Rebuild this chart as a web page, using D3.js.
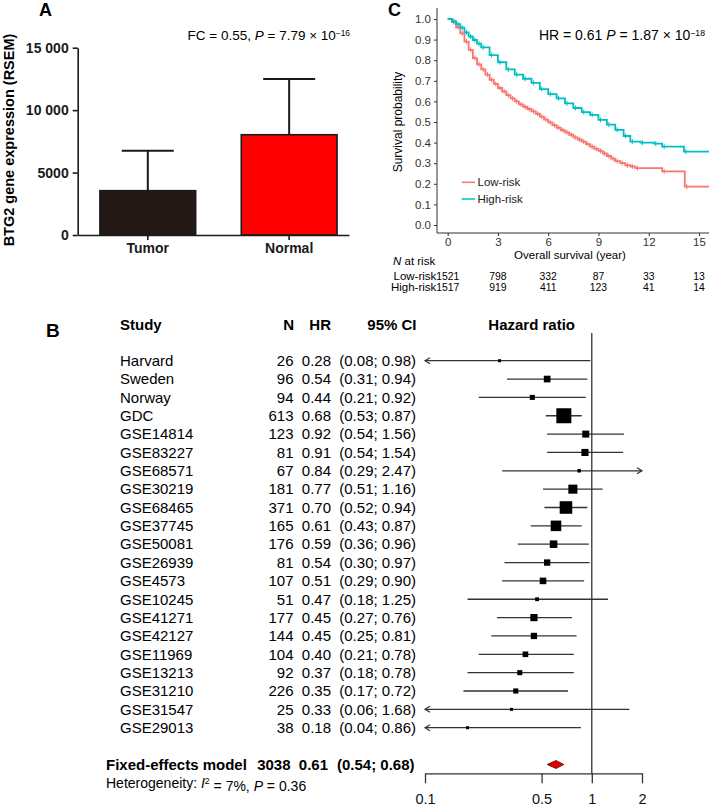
<!DOCTYPE html>
<html>
<head>
<meta charset="utf-8">
<script src="https://cdn.jsdelivr.net/npm/d3@7"></script>
<style>
  html, body { margin: 0; padding: 0; background: #fff; }
  svg { display: block; font-family: "Liberation Sans", Arial, sans-serif; }
</style>
</head>
<body>
<svg id="chart" width="709" height="807"></svg>
<script>
// ---------- Panel A data: BTG2 expression ----------
var groups = ["Tumor", "Normal"];
var meanExpr = [3550, 8030];
var errExpr = [3200, 4470];
var yTicksA = [0, 5000, 10000, 15000];
var yTickLabelsA = ["0", "5000", "10 000", "15 000"];

// ---------- Panel C data: Kaplan-Meier curves ----------
var kmLowTime = [0, 0.25, 0.5, 0.75, 1, 1.25, 1.5, 1.75, 2, 2.25, 2.5, 2.75, 3, 3.25, 3.5, 3.75, 4, 4.25, 4.5, 4.75, 5, 5.25, 5.5, 5.75, 6, 6.25, 6.5, 6.75, 7, 7.25, 7.5, 7.75, 8, 8.25, 8.5, 8.75, 9, 9.25, 9.5, 9.75, 10, 10.3, 10.6, 10.9, 11.2, 12.8, 14.15, 15.6];
var kmLowSurv = [1, 0.985, 0.96, 0.93, 0.89, 0.85, 0.81, 0.78, 0.755, 0.73, 0.705, 0.685, 0.665, 0.648, 0.63, 0.615, 0.6, 0.586, 0.574, 0.563, 0.552, 0.54, 0.526, 0.512, 0.498, 0.485, 0.472, 0.46, 0.45, 0.438, 0.425, 0.415, 0.405, 0.393, 0.38, 0.37, 0.36, 0.347, 0.335, 0.322, 0.31, 0.3, 0.29, 0.284, 0.276, 0.26, 0.186, 0.186];
var kmHighTime = [0, 0.25, 0.5, 0.75, 1, 1.25, 1.5, 1.75, 2, 2.5, 3, 3.5, 4, 4.5, 5, 5.5, 6, 6.5, 7, 7.5, 8, 8.5, 9, 9.5, 10, 10.5, 10.9, 11.5, 12.3, 12.8, 14.1, 15.6];
var kmHighSurv = [1, 0.99, 0.975, 0.958, 0.935, 0.915, 0.898, 0.88, 0.862, 0.825, 0.79, 0.755, 0.73, 0.71, 0.69, 0.66, 0.635, 0.615, 0.59, 0.568, 0.548, 0.535, 0.51, 0.487, 0.462, 0.432, 0.405, 0.4, 0.395, 0.38, 0.356, 0.356];
var survTicks = [0, 0.1, 0.2, 0.3, 0.4, 0.5, 0.6, 0.7, 0.8, 0.9, 1.0];
var timeTicks = [0, 3, 6, 9, 12, 15];
var riskLow = [1521, 798, 332, 87, 33, 13];
var riskHigh = [1517, 919, 411, 123, 41, 14];

// ---------- Panel B data: forest plot ----------
var studies = ["Harvard", "Sweden", "Norway", "GDC", "GSE14814", "GSE83227", "GSE68571", "GSE30219", "GSE68465", "GSE37745", "GSE50081", "GSE26939", "GSE4573", "GSE10245", "GSE41271", "GSE42127", "GSE11969", "GSE13213", "GSE31210", "GSE31547", "GSE29013"];
var studyN = [26, 96, 94, 613, 123, 81, 67, 181, 371, 165, 176, 81, 107, 51, 177, 144, 104, 92, 226, 25, 38];
var studyHR = [0.28, 0.54, 0.44, 0.68, 0.92, 0.91, 0.84, 0.77, 0.70, 0.61, 0.59, 0.54, 0.51, 0.47, 0.45, 0.45, 0.40, 0.37, 0.35, 0.33, 0.18];
var ciLow = [0.08, 0.31, 0.21, 0.53, 0.54, 0.54, 0.29, 0.51, 0.52, 0.43, 0.36, 0.30, 0.29, 0.18, 0.27, 0.25, 0.21, 0.18, 0.17, 0.06, 0.04];
var ciHigh = [0.98, 0.94, 0.92, 0.87, 1.56, 1.54, 2.47, 1.16, 0.94, 0.87, 0.96, 0.97, 0.90, 1.25, 0.76, 0.81, 0.78, 0.78, 0.72, 1.68, 0.86];
var pooledN = 3038, pooledHR = 0.61, pooledLow = 0.54, pooledHigh = 0.68;
var hetI2 = 7, hetP = 0.36;
var hrTicks = [0.1, 0.5, 1, 2];

var lowColor = '#F8766D', highColor = '#00BFC4';
var svg = d3.select('#chart');

// Helper: text with italic / superscript pieces such as "× 10^-16"
function supText(sel, parts) {
    parts.forEach(function (p) {
        var t = sel.append('tspan').text(p.t);
        if (p.i) t.style('font-style', 'italic');
        if (p.sup) t.attr('dy', '-0.45em').style('font-size', '0.62em');
        if (p.down) t.attr('dy', '0.45em');
    });
}

// =============== Panel A ===============
var gA = svg.append('g');
var xA = d3.scaleBand().domain(groups).range([77.7, 349])
    .paddingInner(0.3227).paddingOuter(0.121).align(0.65);
var yA = d3.scaleLinear().domain([0, 15000]).range([235, 47.7]);

gA.selectAll('rect.bar').data(groups).enter().append('rect')
    .attr('class', 'bar')
    .attr('x', function (d) { return xA(d); })
    .attr('width', xA.bandwidth())
    .attr('y', function (d, i) { return yA(meanExpr[i]); })
    .attr('height', function (d, i) { return yA(0) - yA(meanExpr[i]); })
    .attr('fill', function (d, i) { return i === 0 ? '#231815' : '#ff0000'; })
    .attr('stroke', '#1a1a1a')
    .attr('stroke-width', 1.6);

// error bars (upper only)
groups.forEach(function (g, i) {
    var cx = xA(g) + xA.bandwidth() / 2;
    var top = yA(meanExpr[i] + errExpr[i]);
    gA.append('line').attr('x1', cx).attr('x2', cx)
        .attr('y1', yA(meanExpr[i])).attr('y2', top)
        .attr('stroke', '#1a1a1a').attr('stroke-width', 2);
    gA.append('line').attr('x1', cx - 26).attr('x2', cx + 26)
        .attr('y1', top).attr('y2', top)
        .attr('stroke', '#1a1a1a').attr('stroke-width', 2);
});

var axAy = gA.append('g').attr('transform', 'translate(77.7,0)')
    .call(d3.axisLeft(yA).tickValues(yTicksA)
        .tickFormat(function (d, i) { return yTickLabelsA[i]; })
        .tickSize(5).tickPadding(4).tickSizeOuter(0));
var axAx = gA.append('g').attr('transform', 'translate(0,235)')
    .call(d3.axisBottom(xA).tickSize(5).tickPadding(3).tickSizeOuter(0));
[axAy, axAx].forEach(function (ax) {
    ax.select('.domain').attr('stroke', '#1a1a1a').attr('stroke-width', 1.6);
    ax.selectAll('.tick line').attr('stroke', '#1a1a1a').attr('stroke-width', 1.6);
    ax.selectAll('.tick text').attr('fill', '#1a1a1a')
        .style('font-size', '14px').style('font-weight', 'bold');
});

gA.append('text').attr('transform', 'translate(14,140) rotate(-90)')
    .attr('text-anchor', 'middle')
    .style('font-size', '14.5px').style('font-weight', 'bold')
    .text('BTG2 gene expression (RSEM)');

supText(gA.append('text').attr('x', 350).attr('y', 40).attr('text-anchor', 'end')
    .style('font-size', '13.5px'),
    [{ t: 'FC = 0.55, ' }, { t: 'P', i: true }, { t: ' = 7.79 × 10' }, { t: '−16', sup: true }]);

gA.append('text').attr('x', 39).attr('y', 16)
    .style('font-size', '18px').style('font-weight', 'bold').text('A');

// =============== Panel C ===============
var gC = svg.append('g');
var xC = d3.scaleLinear().domain([0, 15]).range([447.7, 699]);
var yC = d3.scaleLinear().domain([0, 1]).range([225, 19]);

gC.append('defs').append('clipPath').attr('id', 'kmclip')
    .append('rect').attr('x', 437).attr('y', 5).attr('width', 272).attr('height', 228);

var stepLine = d3.line().curve(d3.curveStepAfter)
    .x(function (d) { return xC(d[0]); })
    .y(function (d) { return yC(d[1]); });

function drawKM(times, surv, color) {
    var pts = times.map(function (t, i) { return [t, surv[i]]; });
    var g = gC.append('g').attr('clip-path', 'url(#kmclip)');
    g.append('path').datum(pts).attr('d', stepLine)
        .attr('fill', 'none').attr('stroke', color).attr('stroke-width', 1.8);
    // censor marks
    g.selectAll('line.cens').data(pts.slice(1, -1)).enter().append('line')
        .attr('x1', function (d) { return xC(d[0]) + 2; })
        .attr('x2', function (d) { return xC(d[0]) + 2; })
        .attr('y1', function (d) { return yC(d[1]) - 2.5; })
        .attr('y2', function (d) { return yC(d[1]) + 2.5; })
        .attr('stroke', color).attr('stroke-width', 1);
}
drawKM(kmLowTime, kmLowSurv, lowColor);
drawKM(kmHighTime, kmHighSurv, highColor);

// axis lines
gC.append('line').attr('x1', 437).attr('x2', 437).attr('y1', 8).attr('y2', 233)
    .attr('stroke', '#333').attr('stroke-width', 1);
gC.append('line').attr('x1', 437).attr('x2', 709).attr('y1', 233).attr('y2', 233)
    .attr('stroke', '#333').attr('stroke-width', 1);

var axCy = gC.append('g').attr('transform', 'translate(437,0)')
    .call(d3.axisLeft(yC).tickValues(survTicks).tickFormat(d3.format('.1f'))
        .tickSize(3).tickPadding(3));
var axCx = gC.append('g').attr('transform', 'translate(0,233)')
    .call(d3.axisBottom(xC).tickValues(timeTicks).tickSize(3).tickPadding(2));
[axCy, axCx].forEach(function (ax) {
    ax.select('.domain').remove();
    ax.selectAll('.tick line').attr('stroke', '#333');
    ax.selectAll('.tick text').attr('fill', '#333').style('font-size', '11.5px');
});

gC.append('text').attr('transform', 'translate(402,122) rotate(-90)')
    .attr('text-anchor', 'middle').style('font-size', '12px')
    .text('Survival probability');
gC.append('text').attr('x', 570).attr('y', 259).attr('text-anchor', 'middle')
    .style('font-size', '11.5px').text('Overall survival (year)');

supText(gC.append('text').attr('x', 705).attr('y', 40).attr('text-anchor', 'end')
    .style('font-size', '14px'),
    [{ t: 'HR = 0.61 ' }, { t: 'P', i: true }, { t: ' = 1.87 × 10' }, { t: '−18', sup: true }]);

// legend
[['Low-risk', lowColor, 182.3], ['High-risk', highColor, 199]].forEach(function (l) {
    gC.append('line').attr('x1', 461.7).attr('x2', 475).attr('y1', l[2]).attr('y2', l[2])
        .attr('stroke', l[1]).attr('stroke-width', 1.5);
    gC.append('text').attr('x', 477.5).attr('y', l[2]).attr('dy', '0.35em')
        .style('font-size', '11.5px').attr('fill', '#222').text(l[0]);
});

// number at risk
supText(gC.append('text').attr('x', 393).attr('y', 264.5).style('font-size', '11.5px'),
    [{ t: 'N', i: true }, { t: ' at risk' }]);
[['Low-risk', riskLow, 279.5], ['High-risk', riskHigh, 290.5]].forEach(function (r) {
    gC.append('text').attr('x', 436.3).attr('y', r[2]).attr('text-anchor', 'end')
        .style('font-size', '11.5px').text(r[0]);
    gC.selectAll(null).data(r[1]).enter().append('text')
        .attr('x', function (d, i) { return xC(timeTicks[i]); })
        .attr('y', r[2]).attr('text-anchor', 'middle')
        .style('font-size', '10.4px').text(function (d) { return d; });
});

gC.append('text').attr('x', 388).attr('y', 16)
    .style('font-size', '18px').style('font-weight', 'bold').text('C');

// =============== Panel B: forest ===============
var gB = svg.append('g').style('font-size', '15px');
var yF = d3.scalePoint().domain(studies).range([360.7, 727.7]);
var xF = d3.scaleLog().domain([0.1, 2]).range([425, 642]);
var yPooled = 764.5, yAxisF = 773.3;

// fixed-effect weights from the CIs give the box sizes
var weights = ciLow.map(function (lo, i) {
    var se = (Math.log(ciHigh[i]) - Math.log(lo)) / (2 * 1.96);
    return 1 / (se * se);
});
var boxSize = d3.scaleSqrt().domain([0, d3.max(weights)]).range([0, 15]);
var fmt2 = d3.format('.2f');

gB.append('text').attr('x', 46).attr('y', 337.3)
    .style('font-size', '19px').style('font-weight', 'bold').text('B');

// header
var header = [['Study', 120, 'start'], ['N', 294, 'end'], ['HR', 331, 'end'], ['95% CI', 416.5, 'end'], ['Hazard ratio', 531.7, 'middle']];
header.forEach(function (h) {
    gB.append('text').attr('x', h[1]).attr('y', 325).attr('dy', '0.35em')
        .attr('text-anchor', h[2]).style('font-weight', 'bold').text(h[0]);
});

// reference line at HR = 1
gB.append('line').attr('x1', xF(1)).attr('x2', xF(1)).attr('y1', 333).attr('y2', yAxisF)
    .attr('stroke', '#333').attr('stroke-width', 1.3);

studies.forEach(function (s, i) {
    var y = yF(s);
    gB.append('text').attr('x', 120).attr('y', y).attr('dy', '0.35em').text(s);
    gB.append('text').attr('x', 293.5).attr('y', y).attr('dy', '0.35em')
        .attr('text-anchor', 'end').text(studyN[i]);
    gB.append('text').attr('x', 331).attr('y', y).attr('dy', '0.35em')
        .attr('text-anchor', 'end').text(fmt2(studyHR[i]));
    gB.append('text').attr('x', 416).attr('y', y).attr('dy', '0.35em')
        .attr('text-anchor', 'end').text('(' + fmt2(ciLow[i]) + '; ' + fmt2(ciHigh[i]) + ')');

    var lo = Math.max(ciLow[i], 0.1), hi = Math.min(ciHigh[i], 2);
    gB.append('line').attr('x1', xF(lo)).attr('x2', xF(hi)).attr('y1', y).attr('y2', y)
        .attr('stroke', '#333').attr('stroke-width', 1.3);
    if (ciLow[i] < 0.1) {
        var xl = xF(0.1);
        gB.append('path').attr('d', 'M' + (xl + 5) + ',' + (y - 3) + 'L' + xl + ',' + y + 'L' + (xl + 5) + ',' + (y + 3))
            .attr('fill', 'none').attr('stroke', '#333').attr('stroke-width', 1.2);
    }
    if (ciHigh[i] > 2) {
        var xr = xF(2);
        gB.append('path').attr('d', 'M' + (xr - 5) + ',' + (y - 3) + 'L' + xr + ',' + y + 'L' + (xr - 5) + ',' + (y + 3))
            .attr('fill', 'none').attr('stroke', '#333').attr('stroke-width', 1.2);
    }
    var sz = Math.max(boxSize(weights[i]), 3);
    gB.append('rect').attr('x', xF(studyHR[i]) - sz / 2).attr('y', y - sz / 2)
        .attr('width', sz).attr('height', sz).attr('fill', '#000');
});

// pooled estimate
gB.append('text').attr('x', 106).attr('y', yPooled).attr('dy', '0.35em')
    .style('font-weight', 'bold').text('Fixed-effects model');
gB.append('text').attr('x', 290.5).attr('y', yPooled).attr('dy', '0.35em')
    .attr('text-anchor', 'end').style('font-weight', 'bold').text(pooledN);
gB.append('text').attr('x', 328).attr('y', yPooled).attr('dy', '0.35em')
    .attr('text-anchor', 'end').style('font-weight', 'bold').text(fmt2(pooledHR));
gB.append('text').attr('x', 414.5).attr('y', yPooled).attr('dy', '0.35em')
    .attr('text-anchor', 'end').style('font-weight', 'bold')
    .text('(' + fmt2(pooledLow) + '; ' + fmt2(pooledHigh) + ')');
gB.append('path')
    .attr('d', 'M' + xF(pooledLow) + ',' + yPooled + 'L' + xF(pooledHR) + ',' + (yPooled - 4) +
        'L' + xF(pooledHigh) + ',' + yPooled + 'L' + xF(pooledHR) + ',' + (yPooled + 4) + 'Z')
    .attr('fill', '#e00000').attr('stroke', '#5a0000').attr('stroke-width', 0.8);

var het = gB.append('text').attr('x', 106).attr('y', 783.3).attr('dy', '0.35em')
    .style('font-size', '14px');
supText(het, [{ t: 'Heterogeneity: ' }, { t: 'I', i: true }, { t: '2', sup: true },
    { t: ' = ' + hetI2 + '%, ', down: true }, { t: 'P', i: true }, { t: ' = ' + hetP }]);

var axF = gB.append('g').attr('transform', 'translate(0,' + yAxisF + ')')
    .call(d3.axisBottom(xF).tickValues(hrTicks).tickFormat(function (d) { return d; })
        .tickSize(10).tickPadding(10).tickSizeOuter(0));
axF.select('.domain').attr('stroke', '#333').attr('stroke-width', 1.3);
axF.selectAll('.tick line').attr('stroke', '#333').attr('stroke-width', 1.3);
axF.selectAll('.tick text').attr('fill', '#111').style('font-size', '14.5px');
</script>
</body>
</html>
